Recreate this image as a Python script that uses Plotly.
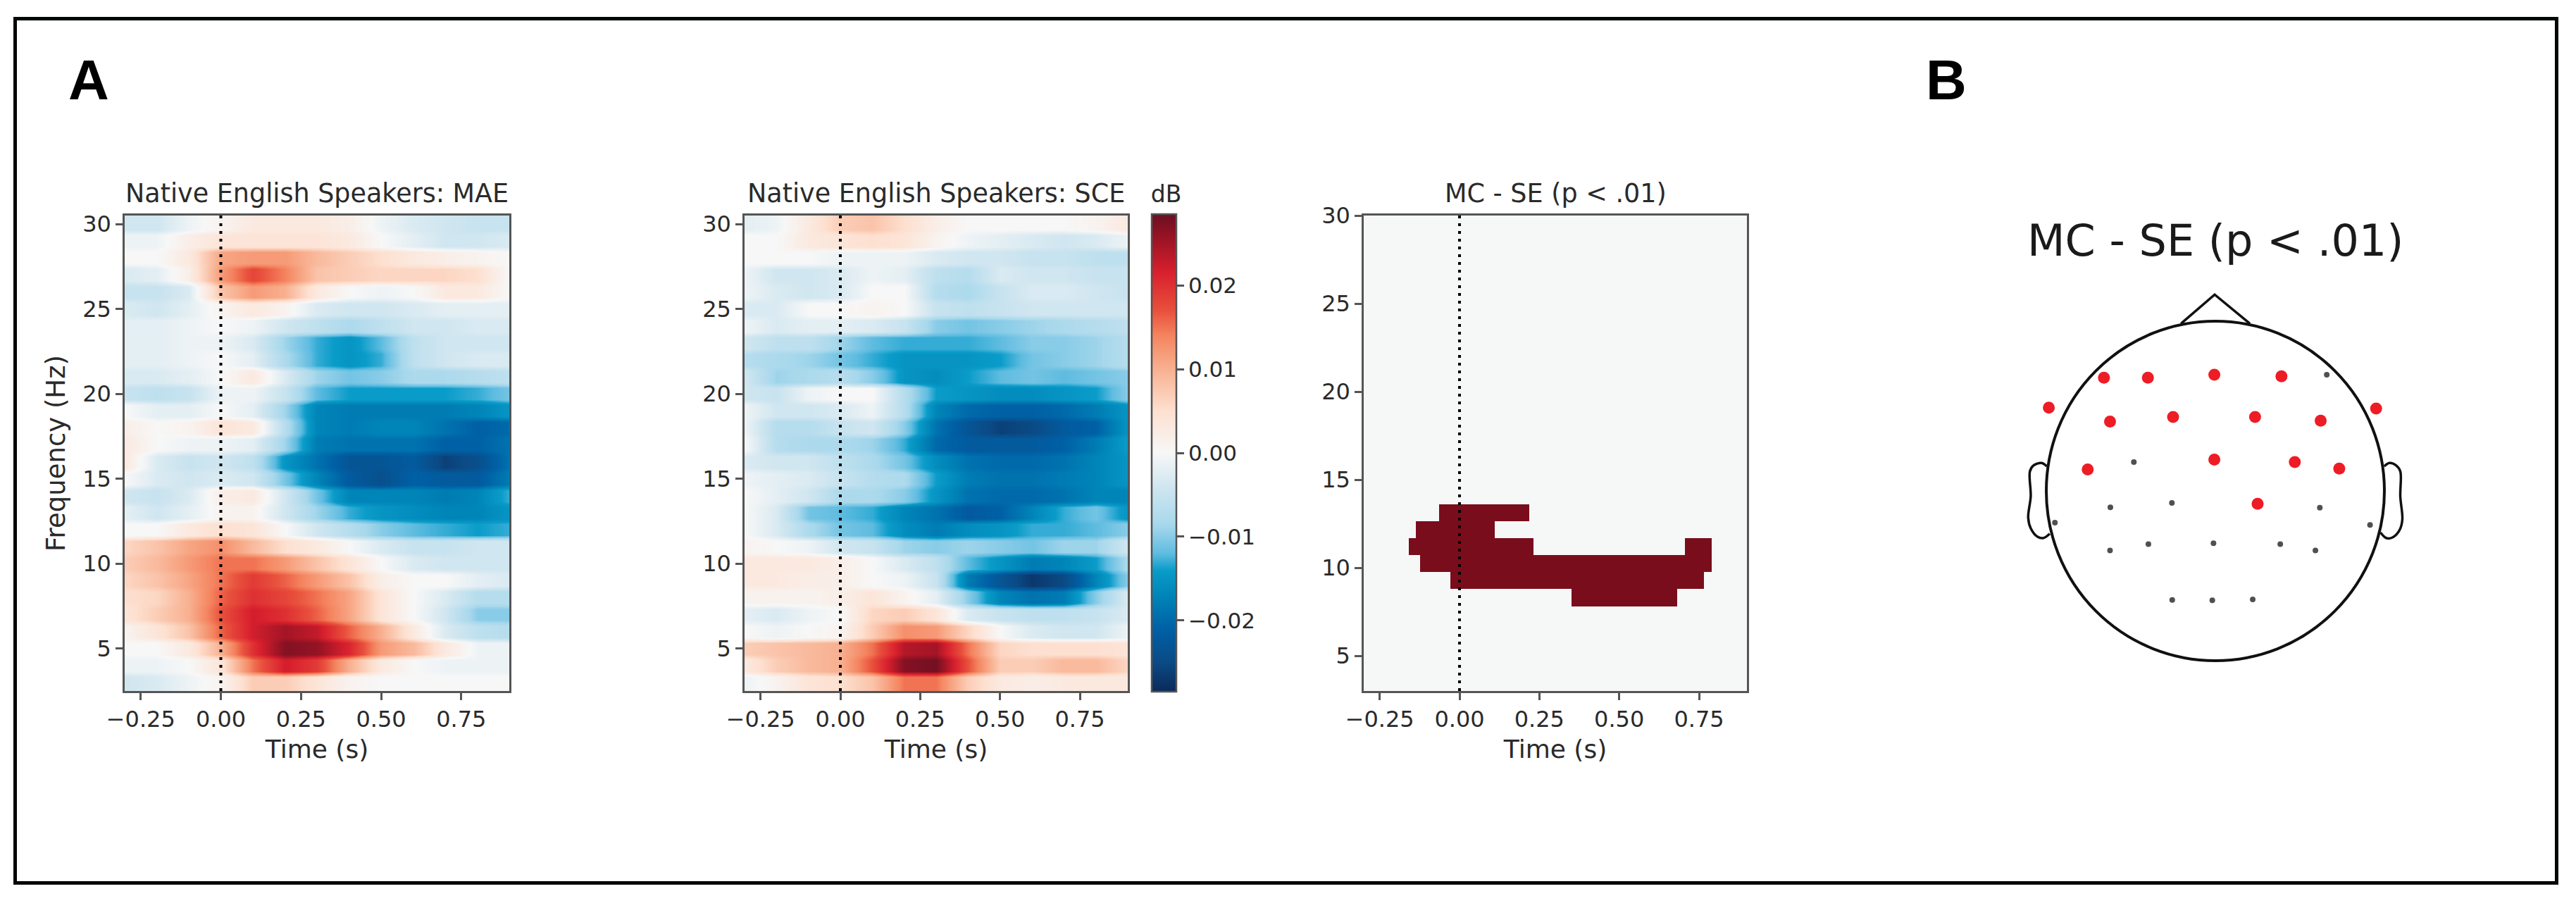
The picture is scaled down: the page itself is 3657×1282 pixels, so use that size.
import numpy as np
import plotly.graph_objects as go

W, H = 3657, 1282

# ---------- data ----------
times = [-0.3, -0.2, -0.1, 0.0, 0.1, 0.2, 0.3, 0.4, 0.5, 0.6, 0.7, 0.8, 0.9]
freqs = list(range(30, 2, -1))

# values in 0.001 dB, one row per frequency from 30 Hz down to 3 Hz
mae_milli = [
    [-4,-4,-1,1,3,3,3,2,-1,-3,-4,-5,-5],
    [-1,-1,2,4,4,4,4,3,0,-2,-4,-4,-3],
    [0,0,3,11,12,12,9,7,5,3,2,1,0],
    [-3,-2,2,12,18,14,8,7,6,6,6,5,0],
    [-5,-5,-3,8,12,10,3,0,-1,0,3,3,0],
    [-3,-4,-2,1,3,1,-3,-4,-4,-3,-2,-2,-2],
    [-2,-2,-1,0,-1,-4,-6,-8,-6,-4,-4,-3,-3],
    [-2,-2,-1,-1,-3,-9,-13,-15,-12,-6,-4,-4,-4],
    [-2,-2,-1,0,-2,-8,-13,-15,-13,-6,-4,-3,-3],
    [-3,-3,-2,0,3,-3,-9,-11,-10,-8,-8,-7,-6],
    [-5,-6,-5,-1,-1,-5,-12,-14,-14,-14,-14,-13,-11],
    [0,-2,-2,0,-2,-9,-17,-18,-18,-18,-18,-17,-15],
    [2,0,1,4,3,-7,-17,-18,-17,-17,-19,-21,-20],
    [3,0,-1,-1,-2,-9,-18,-19,-19,-19,-21,-21,-19],
    [3,-3,-5,-4,-6,-15,-19,-23,-23,-22,-26,-24,-19],
    [0,-3,-4,-3,-4,-11,-17,-22,-24,-21,-22,-22,-18],
    [-4,-5,-3,2,3,-4,-11,-17,-17,-17,-18,-17,-13],
    [-2,-4,-2,1,1,-4,-9,-13,-15,-16,-17,-17,-15],
    [0,0,3,5,4,0,-4,-7,-10,-12,-13,-14,-13],
    [6,8,11,13,9,5,3,0,-3,-5,-5,-4,-4],
    [7,9,12,15,15,12,8,4,0,-3,-4,-4,-4],
    [6,8,11,15,19,16,12,8,2,0,0,-2,-3],
    [5,6,10,16,20,18,15,11,4,0,-3,-7,-7],
    [4,7,10,17,22,20,16,11,4,0,-4,-10,-10],
    [1,4,8,16,22,25,23,16,10,3,-3,-6,-7],
    [0,0,3,10,20,27,26,21,12,9,3,-1,-1],
    [-1,-1,0,4,15,22,19,10,3,0,-1,-1,-1],
    [-4,-3,-1,1,7,7,4,1,0,0,0,0,0],
]
sce_milli = [
    [-2,-1,3,7,8,5,2,0,0,0,0,1,3],
    [0,0,3,4,5,4,1,-1,-2,-3,-4,-3,-1],
    [0,0,0,-1,-1,-1,-3,-4,-4,-5,-5,-6,-6],
    [-1,-4,-4,-3,-1,-2,-6,-7,-3,-4,-4,-5,-5],
    [-1,-3,-4,-3,0,0,-7,-8,-5,-3,-3,-4,-5],
    [-3,-3,0,0,1,0,-5,-6,-5,-4,-4,-4,-4],
    [-1,-3,-2,-2,-3,-5,-10,-11,-10,-9,-8,-7,-6],
    [-4,-6,-6,-9,-12,-13,-13,-13,-12,-10,-10,-9,-7],
    [-7,-8,-9,-11,-13,-15,-15,-15,-14,-11,-10,-9,-7],
    [-4,-9,-8,-7,-10,-15,-16,-14,-12,-11,-12,-11,-10],
    [-4,-5,-1,0,0,-7,-14,-15,-16,-16,-15,-14,-10],
    [-1,-4,-4,-3,-1,-7,-17,-20,-21,-21,-20,-18,-15],
    [-1,-7,-7,-5,-4,-10,-19,-23,-26,-25,-22,-21,-15],
    [0,-7,-8,-8,-9,-13,-20,-22,-22,-22,-21,-18,-14],
    [-3,-4,-4,-6,-8,-11,-16,-19,-20,-20,-19,-17,-15],
    [-1,-2,-3,-5,-7,-8,-14,-18,-19,-19,-18,-17,-15],
    [0,-2,-4,-8,-8,-10,-15,-19,-20,-20,-19,-17,-17],
    [0,-3,-11,-12,-13,-17,-19,-22,-21,-17,-13,-11,-15],
    [0,-3,-8,-11,-12,-16,-18,-16,-15,-13,-13,-12,-10],
    [1,0,-1,-4,-5,-9,-10,-9,-10,-11,-9,-9,-4],
    [3,3,3,2,0,-3,-6,-12,-15,-18,-17,-14,-8],
    [3,3,2,2,0,-1,-5,-18,-23,-27,-25,-17,-10],
    [1,1,1,2,4,1,-2,-10,-17,-19,-18,-10,-3],
    [-2,-3,-1,0,6,7,4,-3,-5,-6,-6,-5,-3],
    [0,-1,0,1,7,13,12,6,0,-3,-4,-4,-1],
    [7,8,9,10,15,24,25,15,6,5,5,5,4],
    [3,7,9,10,17,27,28,17,7,7,9,9,6],
    [-1,1,4,5,8,15,15,7,3,2,3,3,3],
]

# significant cluster: time edges, frequency edges and the mask between them
mask_time_edges = [-0.3,-0.159,-0.136,-0.124,-0.063,-0.029,0.111,0.219,0.232,0.351,0.682,0.706,0.765,0.789,0.9]
mask_freq_edges = [3.0,7.82,8.79,9.75,10.71,11.68,12.64,13.6,30.0]
mask_rows = [
    [0,0,0,0,0,0,0,0,0,0,0,0,0,0],
    [0,0,0,0,0,0,0,0,0,1,0,0,0,0],
    [0,0,0,0,0,1,1,1,1,1,1,1,0,0],
    [0,0,0,1,1,1,1,1,1,1,1,1,1,0],
    [0,1,1,1,1,1,1,1,0,0,0,1,1,0],
    [0,0,1,1,1,1,0,0,0,0,0,0,0,0],
    [0,0,0,0,1,1,1,0,0,0,0,0,0,0],
    [0,0,0,0,0,0,0,0,0,0,0,0,0,0],
]

cbar_values = [-0.0285,-0.025,-0.021,-0.017,-0.014,-0.012,-0.0085,-0.004,0.0,0.005,0.01,0.014,0.017,0.0215,0.025,0.0285]
cbar_colors = ["#0a2a5a","#0b4a85","#0060a5","#0085b8","#0a9cc9","#5fbce0","#a8d8ec","#d0e6f0","#f7f7f7",
               "#fde0d0","#f8b090","#f4845f","#e8503c","#d9202e","#a31525","#6b0f22"]

sig_x = [-0.659,-0.399,-0.006,0.391,-0.985,-0.623,-0.250,0.235,0.623,0.951,-0.755,-0.006,0.470,0.733,0.250]
sig_y = [0.667,0.667,0.685,0.675,0.491,0.409,0.436,0.436,0.414,0.486,0.127,0.185,0.170,0.132,-0.076]
other_x = [0.659,-0.482,-0.621,-0.257,0.618,-0.949,0.915,-0.623,-0.396,-0.011,0.384,0.592,-0.255,-0.018,0.221]
other_y = [0.685,0.170,-0.097,-0.071,-0.099,-0.187,-0.200,-0.351,-0.313,-0.308,-0.313,-0.351,-0.642,-0.644,-0.639]
nose_x = [-0.203,-0.004,0.204]
nose_y = [0.986,1.157,0.986]
ear_l_x = [-0.997,-1.028,-1.076,-1.097,-1.092,-1.107,-1.092,-1.052,-1.016,-0.980]
ear_l_y = [0.145,0.165,0.150,0.115,-0.031,-0.157,-0.220,-0.270,-0.277,-0.252]
ear_r_x = [0.999,1.030,1.070,1.094,1.094,1.106,1.089,1.046,1.010,0.977]
ear_r_y = [0.145,0.165,0.150,0.115,-0.031,-0.170,-0.232,-0.275,-0.277,-0.245]

time_ticks = [-0.25, 0.0, 0.25, 0.5, 0.75]
time_labels = ["\u22120.25", "0.00", "0.25", "0.50", "0.75"]
freq_ticks = [5, 10, 15, 20, 25, 30]
cbar_ticks = [-0.02, -0.01, 0.0, 0.01, 0.02]
cbar_labels = ["\u22120.02", "\u22120.01", "0.00", "0.01", "0.02"]

# ---------- helpers ----------
FONT = "DejaVu Sans"
INK = "#2a2a2a"
FRAME = "#555555"
ZMAX = 0.0285

def px(x):
    return x / W

def py(y):
    return 1 - y / H

colorscale = [[(v + ZMAX) / (2 * ZMAX), c] for v, c in zip(cbar_values, cbar_colors)]

def flat_bands(rows):
    """Each 1 Hz row is held flat across most of its height, soft only at its edges."""
    ys, zs = [], []
    for f, row in sorted(zip(freqs, rows)):
        vals = [v / 1000 for v in row]
        ys += [f - 0.33, f + 0.33]
        zs += [vals, vals]
    return ys, zs

fig = go.Figure()

panels = [
    dict(ax="", left=177, right=723),
    dict(ax="2", left=1057, right=1601),
    dict(ax="3", left=1936, right=2480),
]
TOP, BOTTOM = 306, 981

# panel 1
y1, z1 = flat_bands(mae_milli)
fig.add_trace(go.Heatmap(x=times, y=y1, z=z1, zmin=-ZMAX, zmax=ZMAX, colorscale=colorscale,
                         zsmooth="best", showscale=False, xaxis="x", yaxis="y"))
# panel 2
y2, z2 = flat_bands(sce_milli)
fig.add_trace(go.Heatmap(x=times, y=y2, z=z2, zmin=-ZMAX, zmax=ZMAX, colorscale=colorscale,
                         zsmooth="best", xaxis="x2", yaxis="y2",
                         colorbar=dict(
                             x=px(1635), xanchor="left", xpad=0,
                             y=py(BOTTOM + 1), yanchor="bottom", ypad=0,
                             len=BOTTOM - TOP + 1 + 46, lenmode="pixels",
                             thickness=35, thicknessmode="pixels",
                             outlinecolor=FRAME, outlinewidth=2.5,
                             tickmode="array", tickvals=cbar_ticks, ticktext=cbar_labels,
                             ticks="outside", ticklen=10, tickwidth=2.5, tickcolor=FRAME,
                             tickfont=dict(family=FONT, size=31, color=INK),
                             title=dict(text="dB", side="top", font=dict(family=FONT, size=33, color=INK)),
                         )))
# panel 3
fig.add_trace(go.Heatmap(x=mask_time_edges, y=mask_freq_edges, z=mask_rows, zmin=0, zmax=1,
                         colorscale=[[0, "#f6f8f8"], [1, "#7a0d1c"]], showscale=False,
                         xaxis="x3", yaxis="y3"))

# dotted onset lines
y_ranges = {"": [2.5, 30.5], "2": [2.5, 30.5], "3": [3, 30]}
for p in panels:
    a = p["ax"]
    fig.add_trace(go.Scatter(x=[0, 0], y=y_ranges[a], mode="lines", showlegend=False,
                             line=dict(color="#000000", width=4, dash="4px,7px"),
                             xaxis="x" + a, yaxis="y" + a))

# head
HX = "x4"
HY = "y4"
fig.add_trace(go.Scatter(x=nose_x, y=nose_y, mode="lines", line=dict(color="#111111", width=3.5),
                         xaxis=HX, yaxis=HY, showlegend=False))
fig.add_trace(go.Scatter(x=ear_l_x, y=ear_l_y, mode="lines", line=dict(color="#111111", width=3.5, shape="spline"),
                         xaxis=HX, yaxis=HY, showlegend=False))
fig.add_trace(go.Scatter(x=ear_r_x, y=ear_r_y, mode="lines", line=dict(color="#111111", width=3.5, shape="spline"),
                         xaxis=HX, yaxis=HY, showlegend=False))
fig.add_trace(go.Scatter(x=sig_x, y=sig_y, mode="markers", marker=dict(color="#ee1c25", size=17),
                         xaxis=HX, yaxis=HY, showlegend=False))
fig.add_trace(go.Scatter(x=other_x, y=other_y, mode="markers", marker=dict(color="#505050", size=8),
                         xaxis=HX, yaxis=HY, showlegend=False))

axis_common = dict(showgrid=False, zeroline=False, showline=True, mirror=True, linecolor=FRAME, linewidth=2.5,
                   ticks="outside", ticklen=10, tickwidth=2.5, tickcolor=FRAME,
                   tickfont=dict(family=FONT, size=32, color=INK), layer="above traces")

layout = dict(width=W, height=H, margin=dict(l=0, r=0, t=0, b=0, autoexpand=False),
              paper_bgcolor="white", plot_bgcolor="white", showlegend=False)

for p in panels:
    a = p["ax"]
    layout["xaxis" + a] = dict(axis_common, domain=[px(p["left"]), px(p["right"])], range=[-0.3, 0.9],
                               anchor="y" + a, tickmode="array", tickvals=time_ticks, ticktext=time_labels,
                               title=dict(text="Time (s)", standoff=12, font=dict(family=FONT, size=36, color=INK)))
    layout["yaxis" + a] = dict(axis_common, domain=[py(BOTTOM), py(TOP)], range=y_ranges[a],
                               anchor="x" + a, tickmode="array", tickvals=freq_ticks)
layout["yaxis"]["title"] = dict(text="Frequency (Hz)", standoff=14, font=dict(family=FONT, size=37, color=INK))

# head axes: one unit is the head radius
layout["xaxis4"] = dict(domain=[px(2845), px(3445)], range=[-1.25, 1.25], visible=False, anchor="y4")
layout["yaxis4"] = dict(domain=[py(997), py(397)], range=[-1.245, 1.245], visible=False, anchor="x4")

layout["shapes"] = [
    dict(type="rect", xref="paper", yref="paper", x0=px(21.5), x1=px(3629.5), y0=py(26.5), y1=py(1253.5),
         line=dict(color="#020606", width=5), fillcolor="rgba(0,0,0,0)"),
    dict(type="circle", xref="x4", yref="y4", x0=-1, x1=1, y0=-1, y1=1, line=dict(color="#111111", width=4)),
]

def note(text, x, y, size, family=FONT, color=INK, anchor="center", bold=False):
    return dict(text=("<b>%s</b>" % text) if bold else text, x=px(x), y=py(y), xref="paper", yref="paper",
                xanchor=anchor, yanchor="middle", showarrow=False, font=dict(family=family, size=size, color=color))

layout["annotations"] = [
    note("A", 126, 113, 80, family="Liberation Sans", color="#000000", bold=True),
    note("B", 2763, 113, 80, family="Liberation Sans", color="#000000", bold=True),
    note("Native English Speakers: MAE", 450, 274, 36.5),
    note("Native English Speakers: SCE", 1329, 274, 36.5),
    note("MC - SE (p &lt; .01)", 2208, 274, 36.5),
    note("MC - SE (p &lt; .01)", 3145, 341, 62, color="#1a1a1a"),
]

fig.update_layout(**layout)
fig.write_html("out.html", config={"displayModeBar": False},
               post_script="document.body.style.margin='0';document.body.style.overflow='hidden';")
